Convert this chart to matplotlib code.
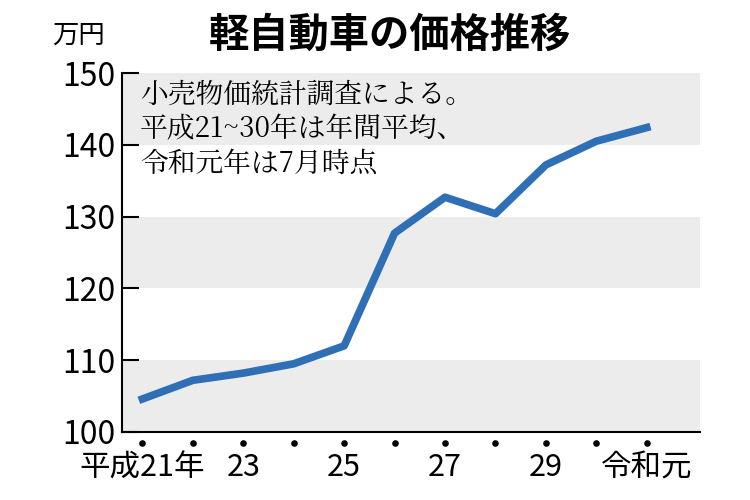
import matplotlib.pyplot as plt

plt.rcParams['font.family'] = ['Noto Sans CJK JP', 'DejaVu Sans']

years = ['平成21年', '22', '23', '24', '25', '26', '27', '28', '29', '30', '令和元']
prices = [104.6, 107.2, 108.2, 109.5, 112.0, 127.7, 132.7, 130.4, 137.2, 140.5, 142.4]
shown = ['平成21年', '', '23', '', '25', '', '27', '', '29', '', '令和元']

fig = plt.figure(figsize=(7.5, 5), dpi=100)
ax = fig.add_axes([0.163, 0.136, 0.77, 0.718])
x = list(range(len(prices)))

for lo in (100, 120, 140):
    ax.axhspan(lo, lo + 10, color='#ececec', zorder=0, lw=0)
ax.plot(x, prices, color='#2f6fb5', lw=5.5, solid_joinstyle='round', zorder=3)
ax.scatter(x, [98.5] * len(x), s=14, color='black', clip_on=False, zorder=4)

ax.set_xlim(-0.4, 11.05)
ax.set_ylim(100, 150)
ax.set_yticks([100, 110, 120, 130, 140, 150])
ax.tick_params(axis='y', labelsize=23, length=12, width=1.5, direction='in', pad=5)
ax.set_xticks([])
for xi, lab in zip(x, shown):
    if lab:
        ax.text(xi, 95.0, lab, ha='center', va='center', fontsize=22)
for s in ('top', 'right'):
    ax.spines[s].set_visible(False)
ax.spines['left'].set_linewidth(1.5)
ax.spines['bottom'].set_linewidth(1.5)

ax.text(-0.05, 149.0, '小売物価統計調査による。\n平成21~30年は年間平均、\n令和元年は7月時点',
        fontsize=20, va='top', ha='left', linespacing=1.2, family=['Noto Serif CJK JP', 'Noto Sans CJK JP'])
fig.text(0.07, 0.93, '万円', fontsize=19, ha='left', va='center')
fig.text(0.52, 0.93, '軽自動車の価格推移', fontsize=29, fontweight='bold', ha='center', va='center')

fig.savefig('out.png', dpi=100)
